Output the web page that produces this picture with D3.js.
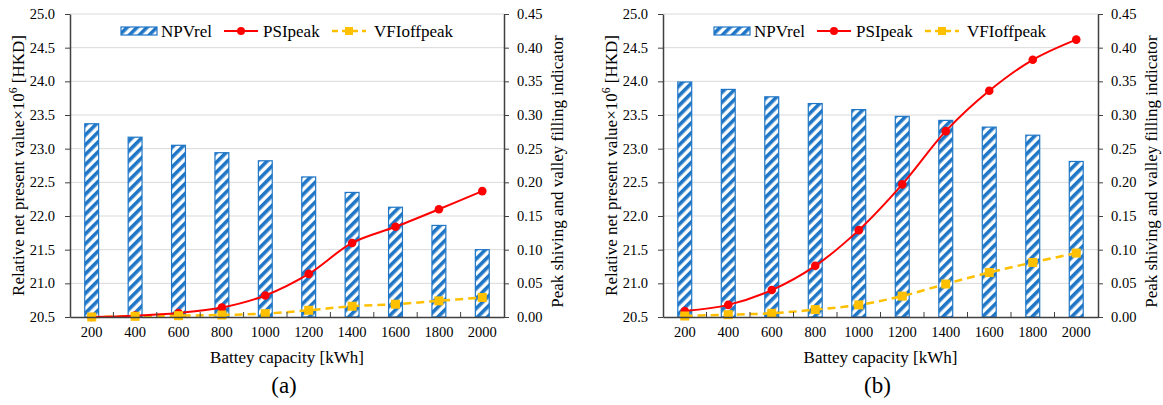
<!DOCTYPE html>
<html>
<head>
<meta charset="utf-8">
<script src="https://cdn.jsdelivr.net/npm/d3@7"></script>
<style>
  body { margin: 0; background: #fff; }
  svg text { font-family: "Liberation Serif", "Times New Roman", Times, "DejaVu Serif", serif; }
  .tick text { font-size: 14.5px; fill: #000; }
</style>
</head>
<body>
<svg id="chart" width="1163" height="405"></svg>
<script>
// Data
var capacity = [200, 400, 600, 800, 1000, 1200, 1400, 1600, 1800, 2000];
var npvA = [23.37, 23.17, 23.05, 22.94, 22.82, 22.58, 22.35, 22.13, 21.86, 21.50];
var psiA = [0.000, 0.002, 0.006, 0.014, 0.032, 0.064, 0.110, 0.134, 0.160, 0.187];
var vfiA = [0.000, 0.001, 0.002, 0.003, 0.005, 0.010, 0.016, 0.019, 0.024, 0.029];
var npvB = [23.99, 23.88, 23.77, 23.67, 23.58, 23.48, 23.42, 23.32, 23.20, 22.81];
var psiB = [0.009, 0.018, 0.040, 0.076, 0.129, 0.197, 0.276, 0.336, 0.382, 0.412];
var vfiB = [0.0015, 0.0035, 0.0055, 0.011, 0.018, 0.031, 0.049, 0.066, 0.081, 0.095];
var leftTicks = [20.5, 21.0, 21.5, 22.0, 22.5, 23.0, 23.5, 24.0, 24.5, 25.0];
var rightTicks = [0, 0.05, 0.10, 0.15, 0.20, 0.25, 0.30, 0.35, 0.40, 0.45];
var seriesNames = ["NPVrel", "PSIpeak", "VFIoffpeak"];

var blue = "#1f76c6", red = "#ff0000", gold = "#ffc000";
var axisColor = "#404040", gridColor = "#d9d9d9";

var svg = d3.select("#chart");

// hatch pattern for the bars
var defs = svg.append("defs");
var pat = defs.append("pattern")
    .attr("id", "hatch")
    .attr("patternUnits", "userSpaceOnUse")
    .attr("width", 7).attr("height", 7)
    .attr("patternTransform", "rotate(45)");
pat.append("rect").attr("width", 7).attr("height", 7).attr("fill", "#fff");
pat.append("rect").attr("width", 3.6).attr("height", 7).attr("fill", blue);

function drawPanel(left, right, npv, psi, vfi, label) {
    var top = 14, bottom = 317;
    var g = svg.append("g");

    var x = d3.scaleBand().domain(capacity).range([left, right]);
    var yL = d3.scaleLinear().domain([20.5, 25]).range([bottom, top]);
    var yR = d3.scaleLinear().domain([0, 0.45]).range([bottom, top]);

    // gridlines
    g.append("g").selectAll("line")
        .data(leftTicks.slice(1))
        .join("line")
        .attr("x1", left).attr("x2", right)
        .attr("y1", d => yL(d)).attr("y2", d => yL(d))
        .attr("stroke", gridColor).attr("stroke-width", 1);

    // bars
    var bw = x.bandwidth() * 0.32;
    g.append("g").selectAll("rect")
        .data(npv)
        .join("rect")
        .attr("x", (d, i) => x(capacity[i]) + x.bandwidth() / 2 - bw / 2)
        .attr("y", d => yL(d))
        .attr("width", bw)
        .attr("height", d => bottom - yL(d))
        .attr("fill", "url(#hatch)")
        .attr("stroke", blue).attr("stroke-width", 1.2);

    var cx = (d, i) => x(capacity[i]) + x.bandwidth() / 2;

    // VFIoffpeak dashed line
    var lineV = d3.line().x(cx).y(d => yR(d)).curve(d3.curveCatmullRom.alpha(0.5));
    g.append("path").datum(vfi)
        .attr("d", lineV)
        .attr("fill", "none").attr("stroke", gold)
        .attr("stroke-width", 2.5).attr("stroke-dasharray", "8,5");

    // PSIpeak smooth line
    var lineP = d3.line().x(cx).y(d => yR(d)).curve(d3.curveCatmullRom.alpha(0.5));
    g.append("path").datum(psi)
        .attr("d", lineP)
        .attr("fill", "none").attr("stroke", red).attr("stroke-width", 2);

    g.append("g").selectAll("circle")
        .data(psi)
        .join("circle")
        .attr("cx", cx).attr("cy", d => yR(d))
        .attr("r", 4.3).attr("fill", red);

    g.append("g").selectAll("rect")
        .data(vfi)
        .join("rect")
        .attr("x", (d, i) => cx(d, i) - 4.5).attr("y", d => yR(d) - 4.5)
        .attr("width", 9).attr("height", 9).attr("fill", gold);

    // axes
    var xAxis = g.append("g")
        .attr("transform", `translate(0,${bottom})`)
        .call(d3.axisBottom(x).tickSize(0).tickPadding(10));
    xAxis.select(".domain").attr("stroke", axisColor).attr("stroke-width", 1.5);
    // inside tick marks at the band boundaries
    xAxis.append("g").selectAll("line")
        .data(capacity.slice(1))
        .join("line")
        .attr("x1", d => x(d)).attr("x2", d => x(d))
        .attr("y1", 0).attr("y2", -5)
        .attr("stroke", axisColor).attr("stroke-width", 1);

    var yAxisL = g.append("g")
        .attr("transform", `translate(${left},0)`)
        .call(d3.axisLeft(yL).tickValues(leftTicks).tickFormat(d3.format(".1f")).tickSize(5).tickSizeOuter(0).tickPadding(10));
    yAxisL.selectAll("line, .domain").attr("stroke", axisColor);
    yAxisL.select(".domain").attr("stroke-width", 1.5);

    var yAxisR = g.append("g")
        .attr("transform", `translate(${right},0)`)
        .call(d3.axisRight(yR).tickValues(rightTicks).tickFormat(d3.format(".2f")).tickSize(5).tickSizeOuter(0).tickPadding(8));
    yAxisR.selectAll("line, .domain").attr("stroke", axisColor);
    yAxisR.select(".domain").attr("stroke-width", 1.5);

    // let the serif font from the stylesheet apply to tick labels
    [xAxis, yAxisL, yAxisR].forEach(a => a.attr("font-family", null).attr("font-size", null));

    // axis titles
    g.append("text")
        .attr("x", (left + right) / 2).attr("y", 363)
        .attr("text-anchor", "middle").attr("font-size", 17)
        .text("Battey capacity [kWh]");

    var tl = g.append("text")
        .attr("transform", `translate(${left - 46},${(top + bottom) / 2}) rotate(-90)`)
        .attr("text-anchor", "middle").attr("font-size", 17);
    tl.append("tspan").text("Relative net present value\u00d710");
    tl.append("tspan").attr("dy", -7).attr("font-size", 11.5).text("6");
    tl.append("tspan").attr("dy", 7).text(" [HKD]");

    g.append("text")
        .attr("transform", `translate(${right + 59},${(top + bottom) / 2 + 6}) rotate(-90)`)
        .attr("text-anchor", "middle").attr("font-size", 17)
        .text("Peak shiving and valley filling indicator");

    g.append("text")
        .attr("x", (left + right) / 2 - 3).attr("y", 393)
        .attr("text-anchor", "middle").attr("font-size", 23)
        .text(label);

    // legend
    var lg = g.append("g").attr("transform", `translate(${left + 51},31)`);
    lg.append("rect").attr("x", 0).attr("y", -4).attr("width", 36).attr("height", 8)
        .attr("fill", "url(#hatch)").attr("stroke", blue).attr("stroke-width", 1.2);
    lg.append("text").attr("x", 40).attr("y", 5.5).attr("font-size", 17).text(seriesNames[0]);

    lg.append("line").attr("x1", 103).attr("x2", 137).attr("y1", 0).attr("y2", 0)
        .attr("stroke", red).attr("stroke-width", 2);
    lg.append("circle").attr("cx", 120).attr("cy", 0).attr("r", 4).attr("fill", red);
    lg.append("text").attr("x", 142).attr("y", 5.5).attr("font-size", 17).text(seriesNames[1]);

    lg.append("line").attr("x1", 211).attr("x2", 245).attr("y1", 0).attr("y2", 0)
        .attr("stroke", gold).attr("stroke-width", 2.5).attr("stroke-dasharray", "6,4");
    lg.append("rect").attr("x", 224).attr("y", -4).attr("width", 8).attr("height", 8).attr("fill", gold);
    lg.append("text").attr("x", 253).attr("y", 5.5).attr("font-size", 17).text(seriesNames[2]);
}

drawPanel(70, 504, npvA, psiA, vfiA, "(a)");
drawPanel(663, 1098, npvB, psiB, vfiB, "(b)");
</script>
</body>
</html>
